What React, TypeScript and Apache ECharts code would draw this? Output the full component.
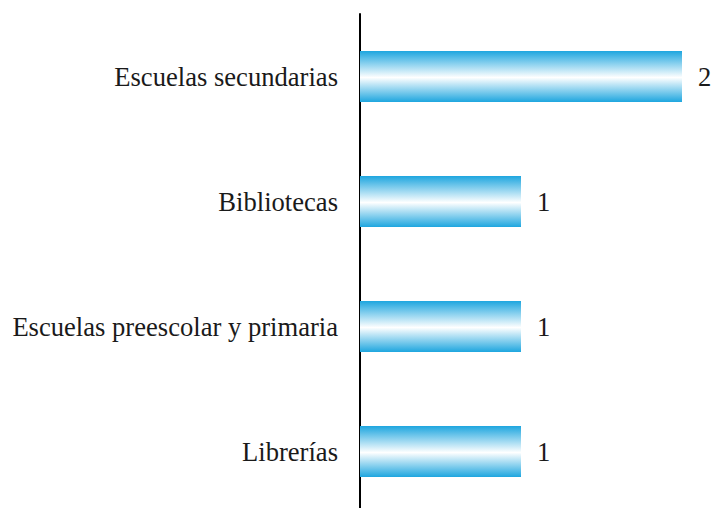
import React, { useEffect, useRef } from "react";
import * as echarts from "echarts";

const categories = ["Escuelas secundarias", "Bibliotecas", "Escuelas preescolar y primaria", "Librerías"];
const values = [2, 1, 1, 1];

export default function App() {
  const ref = useRef<HTMLDivElement>(null);
  useEffect(() => {
    if (!ref.current) return;
    const chart = echarts.init(ref.current, null, { renderer: "svg" });
    const font = "Liberation Serif";
    chart.setOption({
      animation: false,
      grid: { left: 360, right: 32, top: 14, height: 500, containLabel: false },
      xAxis: {
        type: "value",
        min: 0,
        max: 2,
        show: false,
      },
      yAxis: {
        type: "category",
        data: categories,
        inverse: true,
        axisLine: { show: true, lineStyle: { color: "#000", width: 2 } },
        axisTick: { show: false },
        axisLabel: { margin: 22, fontSize: 26.6, fontFamily: font, color: "#1a1a1a" },
      },
      series: [
        {
          type: "bar",
          data: values,
          barWidth: 51,
          itemStyle: {
            color: new echarts.graphic.LinearGradient(0, 0, 0, 1, [
              { offset: 0, color: "#1ea6df" },
              { offset: 0.52, color: "#ffffff" },
              { offset: 1, color: "#1ea6df" },
            ]),
          },
          label: {
            show: true,
            position: "right",
            distance: 16,
            fontSize: 26.6,
            fontFamily: font,
            color: "#1a1a1a",
          },
        },
      ],
    });
    return () => chart.dispose();
  }, []);
  return (
    <div style={{ width: 714, height: 508, position: "absolute", left: 0, top: 0, overflow: "hidden" }}>
      <div ref={ref} style={{ width: 714, height: 530 }} />
    </div>
  );
}
